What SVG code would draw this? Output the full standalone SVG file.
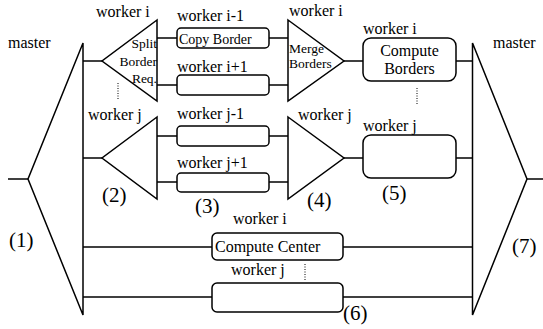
<svg xmlns="http://www.w3.org/2000/svg" width="543" height="329" viewBox="0 0 543 329" font-family="'Liberation Serif', 'DejaVu Serif', serif">
  <style>
    .ln { stroke: #000; stroke-width: 1.5; fill: none; }
    .sh { stroke: #000; stroke-width: 1.5; fill: #fff; stroke-linejoin: miter; }
    .dot { stroke: #000; stroke-width: 1; stroke-dasharray: 1 1.5; fill: none; }
    .lbl { font-size: 16px; }
    .in { font-size: 13.5px; }
    .num { font-size: 21px; }
  </style>
  <rect width="543" height="329" fill="#fff"/>

  <!-- connectors -->
  <g id="connectors">
    <line class="ln" x1="8" y1="179" x2="28" y2="179"/>
    <line class="ln" x1="527" y1="179" x2="543" y2="179"/>
    <!-- master to split stages -->
    <line class="ln" x1="83" y1="61" x2="102" y2="61"/>
    <line class="ln" x1="83" y1="158" x2="102" y2="158"/>
    <!-- split to copy boxes -->
    <line class="ln" x1="157" y1="38" x2="177" y2="38"/>
    <line class="ln" x1="157" y1="85" x2="177" y2="85"/>
    <line class="ln" x1="157" y1="136" x2="177" y2="136"/>
    <line class="ln" x1="157" y1="182" x2="177" y2="182"/>
    <!-- copy boxes to merge -->
    <line class="ln" x1="269" y1="38" x2="288" y2="38"/>
    <line class="ln" x1="269" y1="85" x2="288" y2="85"/>
    <line class="ln" x1="269" y1="136" x2="288" y2="136"/>
    <line class="ln" x1="269" y1="182" x2="288" y2="182"/>
    <!-- merge to compute borders -->
    <line class="ln" x1="344" y1="61" x2="363" y2="61"/>
    <line class="ln" x1="344" y1="158" x2="363" y2="158"/>
    <!-- compute borders to master -->
    <line class="ln" x1="456" y1="61" x2="472.5" y2="61"/>
    <line class="ln" x1="456" y1="158" x2="472.5" y2="158"/>
    <!-- center computation -->
    <line class="ln" x1="83" y1="247" x2="212" y2="247"/>
    <line class="ln" x1="343" y1="247" x2="472.5" y2="247"/>
    <line class="ln" x1="83" y1="297" x2="212" y2="297"/>
    <line class="ln" x1="343" y1="297" x2="472.5" y2="297"/>
    <!-- ellipsis marks -->
    <line class="dot" x1="118" y1="83" x2="118" y2="100"/>
    <line class="dot" x1="417" y1="88" x2="417" y2="105"/>
    <line class="dot" x1="305" y1="264" x2="305" y2="281"/>
  </g>

  <!-- (1) master scatter -->
  <g id="master-scatter">
    <polygon class="sh" points="83,43 28,179 83,315"/>
    <text class="lbl" x="8" y="48">master</text>
    <text class="num" x="9" y="247">(1)</text>
  </g>

  <!-- (2) split border requests -->
  <g id="split-i">
    <polygon class="sh" points="157,20 102,61 157,101"/>
    <text class="lbl" x="96" y="17">worker i</text>
    <text class="in" x="157" y="48" text-anchor="end">Split</text>
    <text class="in" x="157" y="66" text-anchor="end">Border</text>
    <text class="in" x="157" y="83" text-anchor="end">Req.</text>
  </g>
  <g id="split-j">
    <polygon class="sh" points="157,117 102,158 157,199"/>
    <text class="lbl" x="88" y="120">worker j</text>
    <text class="num" x="102" y="202">(2)</text>
  </g>

  <!-- (3) copy border -->
  <g id="copy-i-1">
    <rect class="sh" x="177" y="28" width="92" height="20" rx="4"/>
    <text class="lbl" x="177" y="21">worker i-1</text>
    <text x="179" y="43.5" font-size="14">Copy Border</text>
  </g>
  <g id="copy-i+1">
    <rect class="sh" x="177" y="75" width="92" height="20" rx="4"/>
    <text class="lbl" x="177" y="72">worker i+1</text>
  </g>
  <g id="copy-j-1">
    <rect class="sh" x="177" y="126" width="92" height="20" rx="4"/>
    <text class="lbl" x="177" y="119">worker j-1</text>
  </g>
  <g id="copy-j+1">
    <rect class="sh" x="177" y="173" width="92" height="19" rx="4"/>
    <text class="lbl" x="177" y="168">worker j+1</text>
    <text class="num" x="195" y="213">(3)</text>
  </g>

  <!-- (4) merge borders -->
  <g id="merge-i">
    <polygon class="sh" points="288,20 344,61 288,101"/>
    <text class="lbl" x="289" y="16">worker i</text>
    <text class="in" x="289" y="53">Merge</text>
    <text class="in" x="289" y="68">Borders</text>
  </g>
  <g id="merge-j">
    <polygon class="sh" points="288,117 344,158 288,199"/>
    <text class="lbl" x="298" y="120">worker j</text>
    <text class="num" x="307" y="207">(4)</text>
  </g>

  <!-- (5) compute borders -->
  <g id="borders-i">
    <rect class="sh" x="363" y="38" width="93" height="43" rx="8"/>
    <text class="lbl" x="363" y="34">worker i</text>
    <text class="lbl" x="409.5" y="56" text-anchor="middle">Compute</text>
    <text class="lbl" x="409.5" y="74" text-anchor="middle">Borders</text>
  </g>
  <g id="borders-j">
    <rect class="sh" x="363" y="135" width="93" height="43" rx="8"/>
    <text class="lbl" x="363" y="131">worker j</text>
    <text class="num" x="382" y="200">(5)</text>
  </g>

  <!-- (6) compute center -->
  <g id="center-i">
    <rect class="sh" x="212" y="233" width="131" height="27" rx="5"/>
    <text class="lbl" x="233" y="224">worker i</text>
    <text class="lbl" x="215" y="251.5">Compute Center</text>
  </g>
  <g id="center-j">
    <rect class="sh" x="212" y="283" width="131" height="29" rx="5"/>
    <text class="lbl" x="231" y="275">worker j</text>
    <text class="num" x="343" y="320">(6)</text>
  </g>

  <!-- (7) master gather -->
  <g id="master-gather">
    <polygon class="sh" points="472.5,43 527,179 472.5,315"/>
    <text class="lbl" x="493" y="48">master</text>
    <text class="num" x="512" y="253">(7)</text>
  </g>
</svg>
